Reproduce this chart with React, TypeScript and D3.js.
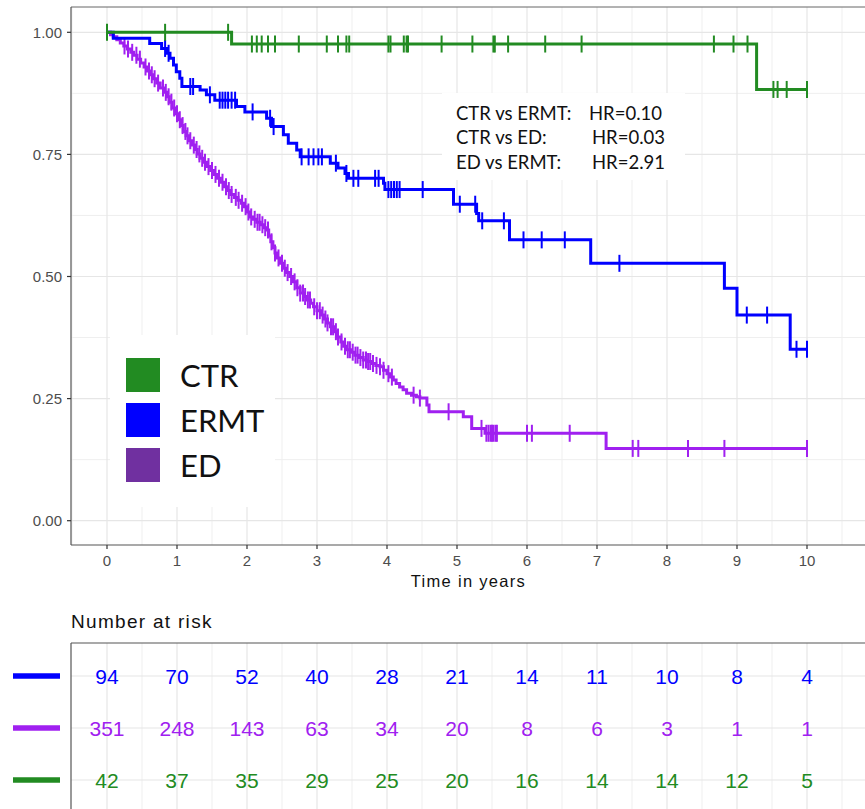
import React from 'react';
import * as d3 from 'd3';

// survival curves: [time, survival after the event]
const ctrEvents: [number, number][] = [[1.78, 0.976], [9.28, 0.883]];
const ctrCensor = [0, 0.83, 1.73, 2.07, 2.14, 2.21, 2.30, 2.40, 2.74, 3.14, 3.30, 3.42, 3.46, 4.02, 4.05, 4.24, 4.28, 4.30, 4.78, 5.22, 5.52, 5.54, 5.73, 6.26, 6.78, 8.67, 8.95, 9.15, 9.52, 9.58, 9.71, 10.0];

const ermtEvents: [number, number][] = [
  [0.09, 0.988], [0.61, 0.977], [0.78, 0.967], [0.85, 0.957], [0.90, 0.947], [0.95, 0.933],
  [0.99, 0.919], [1.04, 0.906], [1.07, 0.889], [1.33, 0.882], [1.42, 0.872], [1.54, 0.861],
  [1.85, 0.848], [1.97, 0.837], [2.28, 0.824], [2.35, 0.807], [2.52, 0.790], [2.59, 0.773],
  [2.71, 0.759], [2.76, 0.745], [3.19, 0.732], [3.30, 0.722], [3.40, 0.711], [3.45, 0.701],
  [3.95, 0.691], [3.97, 0.678], [4.95, 0.648], [5.28, 0.629], [5.31, 0.614], [5.75, 0.575],
  [6.91, 0.527], [8.82, 0.476], [9.0, 0.421], [9.76, 0.351],
];
const ermtCensor = [0.83, 0.88, 1.19, 1.23, 1.47, 1.61, 1.65, 1.69, 1.73, 1.78, 1.83, 2.08, 2.33, 2.38, 2.78, 2.88, 2.95, 3.02, 3.07, 3.27, 3.42, 3.52, 3.59, 3.83, 3.88, 4.02, 4.06, 4.10, 4.14, 4.18, 4.51, 5.04, 5.26, 5.36, 5.67, 5.95, 6.21, 6.54, 7.32, 9.14, 9.43, 9.85, 10.0];

const edEvents: [number, number][] = [
  [0.05, 0.995], [0.09, 0.991], [0.14, 0.985], [0.19, 0.978], [0.24, 0.972], [0.29, 0.966],
  [0.34, 0.959], [0.38, 0.953], [0.43, 0.945], [0.48, 0.937], [0.53, 0.929], [0.57, 0.921],
  [0.61, 0.913], [0.66, 0.905], [0.71, 0.896], [0.76, 0.886], [0.81, 0.877], [0.85, 0.868],
  [0.89, 0.857], [0.93, 0.845], [0.97, 0.833], [1.01, 0.821], [1.05, 0.809], [1.09, 0.797],
  [1.13, 0.788], [1.17, 0.778], [1.21, 0.769], [1.25, 0.760], [1.29, 0.751], [1.33, 0.742],
  [1.38, 0.734], [1.43, 0.725], [1.48, 0.717], [1.53, 0.709], [1.57, 0.701], [1.62, 0.693],
  [1.67, 0.684], [1.72, 0.676], [1.77, 0.668], [1.82, 0.662], [1.87, 0.656], [1.92, 0.650],
  [1.96, 0.643], [2.00, 0.632], [2.04, 0.622], [2.09, 0.617], [2.14, 0.611], [2.19, 0.606],
  [2.24, 0.600], [2.28, 0.595], [2.31, 0.583], [2.34, 0.571], [2.37, 0.559], [2.40, 0.548],
  [2.43, 0.538], [2.47, 0.527], [2.51, 0.517], [2.56, 0.508], [2.61, 0.500], [2.66, 0.489],
  [2.71, 0.477], [2.76, 0.466], [2.81, 0.459], [2.86, 0.452], [2.91, 0.445], [2.95, 0.438],
  [3.00, 0.430], [3.05, 0.421], [3.10, 0.413], [3.15, 0.405], [3.19, 0.397], [3.24, 0.387],
  [3.29, 0.376], [3.34, 0.366], [3.38, 0.357], [3.42, 0.350], [3.48, 0.345], [3.54, 0.339],
  [3.60, 0.334], [3.66, 0.329], [3.72, 0.326], [3.78, 0.322], [3.84, 0.318], [3.90, 0.315],
  [3.95, 0.308], [4.00, 0.301], [4.05, 0.294], [4.09, 0.288], [4.13, 0.281], [4.18, 0.274],
  [4.23, 0.268], [4.28, 0.261], [4.35, 0.257], [4.42, 0.254], [4.47, 0.251], [4.57, 0.237],
  [4.60, 0.223], [5.09, 0.213], [5.21, 0.189], [5.40, 0.179], [7.13, 0.148],
];
const edCensor = [
  0.25, 0.30, 0.36, 0.42, 0.47, 0.55, 0.60, 0.64, 0.68, 0.73, 0.80, 0.84, 0.88, 0.92, 0.96,
  1.00, 1.04, 1.08, 1.12, 1.15, 1.19, 1.24, 1.28, 1.32, 1.36, 1.40, 1.45, 1.50, 1.55, 1.60,
  1.65, 1.70, 1.74, 1.78, 1.84, 1.88, 1.93, 1.98, 2.02, 2.06, 2.11, 2.15, 2.18, 2.22, 2.26,
  2.30, 2.35, 2.40, 2.45, 2.50, 2.54, 2.58, 2.63, 2.68, 2.72, 2.76, 2.80, 2.83, 2.87, 2.90,
  2.96, 3.00, 3.04, 3.08, 3.12, 3.15, 3.20, 3.23, 3.27, 3.30, 3.35, 3.40, 3.44, 3.47, 3.51,
  3.55, 3.58, 3.62, 3.66, 3.70, 3.73, 3.76, 3.80, 3.85, 3.90, 3.95, 4.02, 4.07, 4.38, 4.47,
  4.88, 5.35, 5.42, 5.45, 5.48, 5.50, 5.52, 5.55, 5.57, 6.00, 6.07, 6.61, 7.51, 7.59, 8.30,
  8.82, 10.0,
];

const xTicks = [0, 1, 2, 3, 4, 5, 6, 7, 8, 9, 10];
const xMinor = [-0.5, 0.5, 1.5, 2.5, 3.5, 4.5, 5.5, 6.5, 7.5, 8.5, 9.5, 10.5];
const yTicks = [0, 0.25, 0.5, 0.75, 1];
const yMinor = [0.125, 0.375, 0.625, 0.875];

const legendNames = ['CTR', 'ERMT', 'ED'];
const legendColors = ['#228B22', '#0000FF', '#7030A0'];

const hrLabels = ['CTR vs ERMT:', 'CTR vs ED:', 'ED vs ERMT:'];
const hrValues = ['HR=0.10', 'HR=0.03', 'HR=2.91'];

const riskErmt = [94, 70, 52, 40, 28, 21, 14, 11, 10, 8, 4];
const riskEd = [351, 248, 143, 63, 34, 20, 8, 6, 3, 1, 1];
const riskCtr = [42, 37, 35, 29, 25, 20, 16, 14, 14, 12, 5];

const GREEN = '#228B22';
const BLUE = '#0000FF';
const PURPLE = '#A020F0';

const W = 865;
const H = 809;
const panelLeft = 71;
const panelTop = 7;
const panelBottom = 545;
const tableTop = 643;

const x = d3.scaleLinear().domain([0, 10]).range([107, 807]);
const y = d3.scaleLinear().domain([0, 1]).range([520.7, 32.3]);

const sans = '"Liberation Sans", Arial, Helvetica, sans-serif';
const gill = 'Lato, "Open Sans", sans-serif';

function curvePath(events: [number, number][], end: number) {
  const last = events[events.length - 1][1];
  const pts: [number, number][] = [[0, 1], ...events, [end, last]];
  return d3.line<[number, number]>()
    .x(d => x(d[0]))
    .y(d => y(d[1]))
    .curve(d3.curveStepAfter)(pts) || '';
}

function survAt(events: [number, number][], t: number) {
  const i = d3.bisector((d: [number, number]) => d[0]).right(events, t);
  return i === 0 ? 1 : events[i - 1][1];
}

function Curve({ events, censor, color }: { events: [number, number][]; censor: number[]; color: string }) {
  return (
    <g>
      <path d={curvePath(events, 10)} fill="none" stroke={color} strokeWidth={3} />
      {censor.map((t, i) => {
        const cy = y(survAt(events, t));
        return <line key={i} x1={x(t)} x2={x(t)} y1={cy - 8.5} y2={cy + 8.5} stroke={color} strokeWidth={2} />;
      })}
    </g>
  );
}

export default function App() {
  const rows = [
    { values: riskErmt, color: BLUE, cy: 676 },
    { values: riskEd, color: PURPLE, cy: 728 },
    { values: riskCtr, color: GREEN, cy: 780 },
  ];
  return (
    <svg width={W} height={H} style={{ position: 'absolute', left: 0, top: 0, background: '#fff' }}>
      <defs>
        <clipPath id="panel">
          <rect x={panelLeft} y={panelTop} width={W - panelLeft} height={panelBottom - panelTop} />
        </clipPath>
      </defs>

      {/* main panel grid */}
      <g clipPath="url(#panel)">
        {xMinor.map(v => <line key={'xm' + v} x1={x(v)} x2={x(v)} y1={panelTop} y2={panelBottom} stroke="#EFEFEF" strokeWidth={1} />)}
        {yMinor.map(v => <line key={'ym' + v} x1={panelLeft} x2={W} y1={y(v)} y2={y(v)} stroke="#EFEFEF" strokeWidth={1} />)}
        {xTicks.map(v => <line key={'xg' + v} x1={x(v)} x2={x(v)} y1={panelTop} y2={panelBottom} stroke="#E6E6E6" strokeWidth={1.2} />)}
        {yTicks.map(v => <line key={'yg' + v} x1={panelLeft} x2={W} y1={y(v)} y2={y(v)} stroke="#E6E6E6" strokeWidth={1.2} />)}

        {/* HR annotation box */}
        <rect x={442} y={93} width={243} height={87} fill="#fff" />
        {hrLabels.map((s, i) => (
          <g key={s} fontFamily={gill} fontSize={18.5} fill="#111">
            <text x={456} y={119.5 + i * 24.5}>{s}</text>
            <text x={i === 0 ? 589 : 592} y={119.5 + i * 24.5}>{hrValues[i]}</text>
          </g>
        ))}

        {/* legend */}
        <rect x={110} y={335} width={165} height={172} fill="#fff" />
        {legendNames.map((s, i) => (
          <g key={s}>
            <rect x={126} y={358 + i * 45} width={34} height={34} fill={legendColors[i]} />
            <text x={180} y={387 + i * 45} fontFamily={gill} fontSize={31} fill="#111">{s}</text>
          </g>
        ))}

        <Curve events={edEvents} censor={edCensor} color={PURPLE} />
        <Curve events={ermtEvents} censor={ermtCensor} color={BLUE} />
        <Curve events={ctrEvents} censor={ctrCensor} color={GREEN} />
      </g>

      {/* panel border / axes */}
      <line x1={panelLeft} x2={W} y1={panelTop} y2={panelTop} stroke="#666" strokeWidth={1} />
      <line x1={panelLeft} x2={panelLeft} y1={panelTop} y2={panelBottom} stroke="#555" strokeWidth={1.2} />
      <line x1={panelLeft} x2={W} y1={panelBottom} y2={panelBottom} stroke="#555" strokeWidth={1.2} />

      {yTicks.map(v => (
        <g key={'yt' + v}>
          <line x1={panelLeft - 4} x2={panelLeft} y1={y(v)} y2={y(v)} stroke="#333" strokeWidth={1.2} />
          <text x={62} y={y(v)} dy="0.35em" textAnchor="end" fontFamily={sans} fontSize={15} fill="#4D4D4D">{v.toFixed(2)}</text>
        </g>
      ))}
      {xTicks.map(v => (
        <g key={'xt' + v}>
          <line x1={x(v)} x2={x(v)} y1={panelBottom} y2={panelBottom + 4} stroke="#333" strokeWidth={1.2} />
          <text x={x(v)} y={566} textAnchor="middle" fontFamily={sans} fontSize={15} fill="#4D4D4D">{v}</text>
        </g>
      ))}
      <text x={468.5} y={587} textAnchor="middle" fontFamily={sans} fontSize={16.5} letterSpacing={1.3} fill="#111">Time in years</text>

      {/* risk table */}
      <text x={71} y={628} fontFamily={sans} fontSize={19} letterSpacing={1.3} fill="#111">Number at risk</text>
      {xMinor.filter(v => v > 0).map(v => <line key={'tm' + v} x1={x(v)} x2={x(v)} y1={tableTop} y2={H} stroke="#EFEFEF" strokeWidth={1} />)}
      {xTicks.map(v => <line key={'tg' + v} x1={x(v)} x2={x(v)} y1={tableTop} y2={H} stroke="#E6E6E6" strokeWidth={1.2} />)}
      {rows.map(r => <line key={'tr' + r.cy} x1={panelLeft} x2={W} y1={r.cy} y2={r.cy} stroke="#E6E6E6" strokeWidth={1.2} />)}
      <line x1={panelLeft} x2={W} y1={tableTop} y2={tableTop} stroke="#555" strokeWidth={1.2} />
      <line x1={panelLeft} x2={panelLeft} y1={tableTop} y2={H} stroke="#555" strokeWidth={1.2} />
      {rows.map(r => (
        <g key={'row' + r.cy}>
          <line x1={13} x2={60} y1={r.cy} y2={r.cy} stroke={r.color} strokeWidth={5.5} />
          {r.values.map((n, i) => (
            <text key={i} x={x(xTicks[i])} y={r.cy} dy="0.36em" textAnchor="middle" fontFamily={sans} fontSize={21} fill={r.color}>{n}</text>
          ))}
        </g>
      ))}
    </svg>
  );
}
